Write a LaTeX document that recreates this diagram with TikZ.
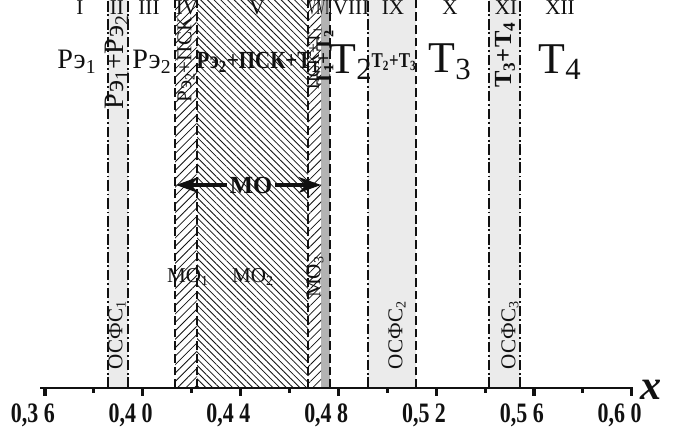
\documentclass[tikz,border=0pt]{standalone}
\usepackage{fontspec}
\setmainfont{Liberation Serif}
\usetikzlibrary{arrows.meta,patterns.meta}
\definecolor{phInk}{HTML}{111111}
\definecolor{phBand}{HTML}{EBEBEB}
\definecolor{phBandDark}{HTML}{B3B3B3}
\tikzset{
  ph canvas/.style={fill=white},
  ph band/.style={fill=phBand},
  ph band dark/.style={fill=phBandDark},
  ph hatch/.style={
    pattern={Lines[angle=45,distance=3.4pt,line width=.45pt]},
    pattern color=phInk
  },
  ph hatch back/.style={
    pattern={Lines[angle=-45,distance=2.7pt,line width=.45pt]},
    pattern color=phInk
  },
  ph border/.style={
    draw=phInk,
    line width=.6pt,
    dash pattern=on 6pt off 1.6pt on 1pt off 1.6pt
  },
  ph border dashed/.style={
    draw=phInk,
    line width=.6pt,
    dash pattern=on 5pt off 2.2pt
  },
  ph axis/.style={draw=phInk, line width=1.7pt},
  ph tick/.style={draw=phInk, line width=1.8pt},
  ph arrow/.style={
    draw=phInk,
    line width=1.8pt,
    -{Stealth[length=4.5mm,width=3.2mm]}
  },
  ph roman/.style={font=\fontsize{12}{12}\selectfont, text=phInk, inner sep=0pt},
  ph phase/.style={font=\fontsize{16}{16}\selectfont, text=phInk, inner sep=0pt},
  ph phase big/.style={font=\fontsize{25}{25}\selectfont, text=phInk, inner sep=0pt},
  ph phase bold/.style={font=\bfseries\fontsize{14}{14}\selectfont, text=phInk, inner sep=0pt},
  ph small/.style={font=\fontsize{12}{12}\selectfont, text=phInk, inner sep=0pt},
  ph tick label/.style={font=\bfseries\fontsize{16}{16}\selectfont, text=phInk, inner sep=0pt, xscale=.78}
}

\begin{document}
\begin{tikzpicture}[x=1cm,y=1cm]
  \useasboundingbox (0,0) rectangle (13.5,8.6);
  \path[ph canvas] (0,0) rectangle (13.5,8.6);

  \path[ph band] (2.16,0.84) rectangle (2.56,8.6);
  \path[ph band] (7.36,0.84) rectangle (8.32,8.6);
  \path[ph band] (9.78,0.84) rectangle (10.4,8.6);
  \path[ph band dark] (6.42,0.84) rectangle (6.6,8.6);
  \path[ph hatch] (3.5,0.84) rectangle (3.94,8.6);
  \path[ph hatch back] (3.94,0.84) rectangle (6.16,8.6);
  \path[ph hatch] (6.16,0.84) rectangle (6.42,8.6);

  \foreach \x in {2.16,2.56,7.36,9.78,10.4}
    \draw[ph border] (\x,0.84) -- (\x,8.6);
  \foreach \x in {3.5,3.94,6.16,6.6,8.32}
    \draw[ph border dashed] (\x,0.84) -- (\x,8.6);

  \foreach \x/\r in {1.6/I,2.34/II,2.98/III,3.74/IV,5.14/V,7.02/VIII,7.86/IX,9.0/X,10.12/XI,11.2/XII}
    \node[ph roman] (r\r) at (\x,8.44) {\r};
  \node[ph roman, xscale=.55] (rVI) at (6.28,8.44) {VI};
  \node[ph roman, xscale=.5] (rVII) at (6.5,8.44) {VII};

  \node[ph phase] (re1) at (1.54,7.36) {Рэ\textsubscript{1}};
  \node[ph phase, rotate=90] (re12) at (2.34,7.36) {Рэ\textsubscript{1}+Рэ\textsubscript{2}};
  \node[ph phase] (re2) at (3.04,7.36) {Рэ\textsubscript{2}};
  \node[ph small, rotate=90] (re2psk) at (3.72,7.4) {Рэ\textsubscript{2}+ПСК};
  \node[ph phase bold, xscale=.85] (re2pskt1) at (5.16,7.36) {Рэ\textsubscript{2}+ПСК+Т\textsubscript{1}};
  \node[ph small, rotate=90, font=\fontsize{10}{10}\selectfont] (pskt1) at (6.29,7.44) {ПСК+Т\textsubscript{1}};
  \node[ph phase bold, rotate=90, font=\bfseries\fontsize{12}{12}\selectfont] (t12) at (6.5,7.44) {Т\textsubscript{1}+Т\textsubscript{2}};
  \node[ph phase big] (t2) at (7.02,7.36) {Т\textsubscript{2}};
  \node[ph phase bold, xscale=.8, font=\bfseries\fontsize{12}{12}\selectfont] (t23) at (7.88,7.36) {Т\textsubscript{2}+Т\textsubscript{3}};
  \node[ph phase big] (t3) at (9.0,7.36) {Т\textsubscript{3}};
  \node[ph phase bold, rotate=90] (t34) at (10.1,7.5) {Т\textsubscript{3}+Т\textsubscript{4}};
  \node[ph phase big] (t4) at (11.2,7.36) {Т\textsubscript{4}};

  \coordinate (moL) at (3.52,4.9);
  \coordinate (moR) at (6.42,4.9);
  \node[ph phase bold, inner sep=1.5pt] (mo) at (5.02,4.9) {МО};
  \draw[ph arrow] (mo) -- (moL);
  \draw[ph arrow] (mo) -- (moR);

  \node[ph small] (mo1) at (3.76,3.06) {МО\textsubscript{1}};
  \node[ph small] (mo2) at (5.06,3.06) {МО\textsubscript{2}};
  \node[ph small, rotate=90] (mo3) at (6.3,3.06) {МО\textsubscript{3}};

  \node[ph small, rotate=90] (osfs1) at (2.34,1.9) {ОСФС\textsubscript{1}};
  \node[ph small, rotate=90] (osfs2) at (7.94,1.9) {ОСФС\textsubscript{2}};
  \node[ph small, rotate=90] (osfs3) at (10.2,1.9) {ОСФС\textsubscript{3}};

  \draw[ph axis] (0.8,0.84) -- (12.66,0.84);
  \foreach \v in {38,42,...,58} {
    \pgfmathsetmacro{\x}{0.9 + 0.489*(\v-36)}
    \draw[ph tick] (\x,0.84) -- (\x,0.74);
  }
  \foreach \v/\a/\b in {36/3/6,40/4/0,44/4/4,48/4/8,52/5/2,56/5/6,60/6/0} {
    \pgfmathsetmacro{\x}{0.9 + 0.489*(\v-36)}
    \draw[ph tick] (\x,0.84) -- (\x,0.68);
    \node[ph tick label, anchor=base east] (l\v) at (\x+0.2,0.14) {0,\a\ \b};
  }
  \node[font=\bfseries\itshape\fontsize{24}{24}\selectfont, text=phInk, inner sep=0pt] (xlab) at (13.02,0.8) {x};
\end{tikzpicture}
\end{document}
